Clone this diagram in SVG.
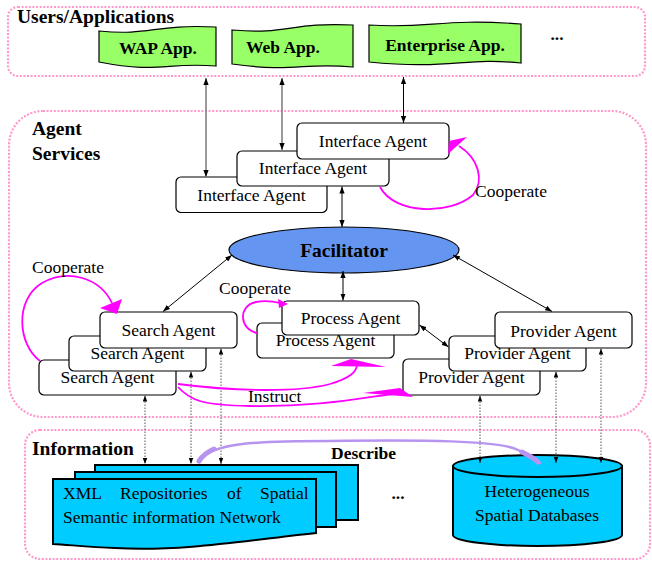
<svg xmlns="http://www.w3.org/2000/svg" width="652" height="563" viewBox="0 0 652 563">
<defs>
<marker id="ah" viewBox="0 0 8 6" markerWidth="7" markerHeight="5.5" refX="8" refY="3" orient="auto-start-reverse" markerUnits="userSpaceOnUse">
<path d="M0,0 L8,3 L0,6 Z" fill="#000"/>
</marker>
<marker id="ahs" viewBox="0 0 8 6" markerWidth="6" markerHeight="5" refX="8" refY="3" orient="auto-start-reverse" markerUnits="userSpaceOnUse">
<path d="M0,0 L8,3 L0,6 Z" fill="#000"/>
</marker>
</defs>
<style>
.zone{fill:none;stroke:#ff99cc;stroke-width:2.2;stroke-dasharray:2 1.6}
.box{fill:#fff;stroke:#000;stroke-width:1.2}
.app{fill:#99ff66;stroke:#000;stroke-width:1.2}
.blue{fill:#00ccff;stroke:#000;stroke-width:2}
.t{font-family:"Liberation Serif","Times New Roman",serif;font-size:17.5px;text-anchor:middle;fill:#000}
.s{text-anchor:start}
.b{font-weight:bold}
.h{font-size:19.5px}
.ln{stroke:#000;stroke-width:1;fill:none}
.gl{stroke:#808080;stroke-width:1.6;fill:none}
.dt{stroke:#555;stroke-width:1;stroke-dasharray:1.5 1.5;fill:none}
.mg{stroke:#ff00ff;stroke-width:1.8;fill:none}
.mgf{fill:#ff00ff}
.lav{stroke:#b794f0;fill:none;stroke-linecap:round}
</style>

<g id="zone-users">
<rect class="zone" x="8" y="7" width="637" height="69" rx="10"/>
<text class="t s b h" x="17" y="23">Users/Applications</text>
</g>
<g id="zone-agents">
<rect class="zone" x="9" y="111" width="637" height="306" rx="34"/>
<text class="t s b h" x="32" y="135">Agent</text>
<text class="t s b h" x="32" y="160">Services</text>
</g>
<g id="zone-info">
<rect class="zone" x="25" y="430" width="625" height="129" rx="15"/>
<text class="t s b h" x="32" y="455">Information</text>
</g>

<g id="wap-app">
<path class="app" d="M99,31 C152,36 152,24 216,27 L216,66 C165,62 160,74 99,62 Z"/>
<text class="t b" x="158" y="54">WAP App.</text>
</g>
<g id="web-app">
<path class="app" d="M232,30 C288,35 290,22 353,25 L353,67 C302,62 296,73 232,64 Z"/>
<text class="t b" x="283" y="53">Web App.</text>
</g>
<g id="enterprise-app">
<path class="app" d="M369,25 C430,29 440,18 521,24 L521,63 C465,57 450,70 369,62 Z"/>
<text class="t b" x="445" y="50.5">Enterprise App.</text>
</g>
<g id="more-apps">
<text class="t b" x="557" y="40">...</text>
</g>

<g id="interface-agent-3">
<rect class="box" x="176" y="177" width="151" height="35.5" rx="5"/>
<text class="t" x="251.5" y="201">Interface Agent</text>
</g>
<g id="interface-agent-2">
<rect class="box" x="237" y="151" width="152" height="35" rx="5"/>
<text class="t" x="313" y="174">Interface Agent</text>
</g>
<g id="interface-agent-1">
<rect class="box" x="297" y="123" width="152" height="36" rx="5"/>
<text class="t" x="373" y="147">Interface Agent</text>
</g>

<g id="facilitator">
<ellipse cx="344" cy="250" rx="115" ry="23" fill="#6495f0" stroke="#000" stroke-width="1.2"/>
<text class="t b h" x="344" y="256.5">Facilitator</text>
</g>

<g id="search-agent-3">
<rect class="box" x="39" y="360" width="137" height="35" rx="5"/>
<text class="t" x="107.5" y="383">Search Agent</text>
</g>
<g id="search-agent-2">
<rect class="box" x="69" y="336" width="137" height="35" rx="5"/>
<text class="t" x="137.5" y="359">Search Agent</text>
</g>
<g id="search-agent-1">
<rect class="box" x="100" y="312" width="137" height="36" rx="5"/>
<text class="t" x="168.5" y="336">Search Agent</text>
</g>

<g id="process-agent-2">
<rect class="box" x="257" y="323" width="137" height="35" rx="5"/>
<text class="t" x="325.5" y="346">Process Agent</text>
</g>
<g id="process-agent-1">
<rect class="box" x="282" y="301" width="137" height="34" rx="5"/>
<text class="t" x="350.5" y="324">Process Agent</text>
</g>

<g id="provider-agent-3">
<rect class="box" x="403" y="359" width="137" height="36" rx="5"/>
<text class="t" x="471.5" y="383">Provider Agent</text>
</g>
<g id="provider-agent-2">
<rect class="box" x="449" y="336" width="137" height="35" rx="5"/>
<text class="t" x="517.5" y="359">Provider Agent</text>
</g>
<g id="provider-agent-1">
<rect class="box" x="495" y="312" width="137" height="36" rx="5"/>
<text class="t" x="563.5" y="336.5">Provider Agent</text>
</g>

<g id="xml-repositories">
<rect class="blue" x="95" y="465" width="263" height="55"/>
<rect class="blue" x="75" y="472" width="261" height="55"/>
<path class="blue" d="M53,479 H316 V533 C250,540 180,552 115,548 C90,547 70,545 53,544 Z"/>
<text class="t s"><tspan x="63" y="499">XML</tspan><tspan x="120" y="499">Repositories</tspan><tspan x="227" y="499">of</tspan><tspan x="260" y="499">Spatial</tspan></text>
<text class="t s" x="63" y="523">Semantic information Network</text>
</g>
<g id="more-info">
<text class="t b" x="398" y="499">...</text>
</g>
<g id="spatial-databases">
<path class="blue" d="M453,466 V535 A84.5,11 0 0 0 622,535 V466 Z"/>
<ellipse class="blue" cx="537.5" cy="466" rx="84.5" ry="11" fill="#22d0ff"/>
<text class="t" x="537" y="497">Heterogeneous</text>
<text class="t" x="537" y="521">Spatial Databases</text>
</g>

<g id="connectors">
<line class="gl" x1="206" y1="78" x2="206" y2="177" marker-start="url(#ah)" marker-end="url(#ah)"/>
<line class="gl" x1="282" y1="78" x2="282" y2="150" marker-start="url(#ah)" marker-end="url(#ah)"/>
<line class="ln" x1="403.5" y1="77" x2="403.5" y2="123" marker-start="url(#ah)" marker-end="url(#ah)"/>
<line class="ln" x1="342" y1="186.5" x2="342" y2="227" marker-start="url(#ah)" marker-end="url(#ah)"/>
<line class="ln" x1="232" y1="255" x2="163" y2="311.5" marker-start="url(#ah)" marker-end="url(#ah)"/>
<line class="ln" x1="343" y1="271" x2="343" y2="300.5" marker-start="url(#ah)" marker-end="url(#ah)"/>
<line class="ln" x1="453" y1="255" x2="552" y2="311.5" marker-start="url(#ah)" marker-end="url(#ah)"/>
<line class="ln" x1="419.5" y1="325" x2="448.5" y2="347" marker-start="url(#ah)" marker-end="url(#ah)"/>

<line class="dt" x1="145" y1="395.5" x2="145" y2="464" marker-start="url(#ahs)" marker-end="url(#ahs)"/>
<line class="dt" x1="191" y1="371.5" x2="191" y2="464" marker-start="url(#ahs)" marker-end="url(#ahs)"/>
<line class="dt" x1="221" y1="348.5" x2="221" y2="464" marker-start="url(#ahs)" marker-end="url(#ahs)"/>
<line class="dt" x1="480" y1="395.5" x2="480" y2="463" marker-start="url(#ahs)" marker-end="url(#ahs)"/>
<line class="dt" x1="556" y1="371.5" x2="556" y2="463" marker-start="url(#ahs)" marker-end="url(#ahs)"/>
<line class="dt" x1="601" y1="348.5" x2="601" y2="463" marker-start="url(#ahs)" marker-end="url(#ahs)"/>

<path class="mg" d="M380,187 C395,215 450,215 473,195 C485,180 478,158 459,146"/>
<polygon class="mgf" points="449,141 467,137 448,154"/>
<text class="t s" x="475" y="197">Cooperate</text>

<path class="mg" d="M40,361 C18,345 14,300 42,283 C68,268 100,278 112,303"/>
<polygon class="mgf" points="100,308 122,299 117,314"/>
<text class="t s" x="32" y="273">Cooperate</text>

<path class="mg" d="M257,333 C240,330 237,306 256,302 C265,300 272,301 280,303"/>
<polygon class="mgf" points="278,299 288,304 279,308"/>
<text class="t s" x="219" y="294">Cooperate</text>

<path class="mg" d="M178,384 C240,392 300,392 330,384 C350,378 357,372 357,364"/>
<polygon class="mgf" points="331,366 351,359 386,367"/>
<path class="mg" d="M178,387 C190,400 200,405 250,406 C320,407 360,398 400,393"/>
<polygon class="mgf" points="363,393 400,388 413,397"/>
<text class="t s" x="248" y="402">Instruct</text>

<path class="lav" stroke-width="2.5" d="M198,462 C210,442 260,441 330,441 C420,440 500,440 518,450 C530,456 537,460 540,463"/>
<path class="lav" stroke-width="5" d="M199,461 C203,455 207,452 214,449"/>
<path class="lav" stroke-width="5" d="M522,452 C530,456 535,459 538,462"/>
<text class="t s b" x="331" y="459">Describe</text>
</g>
</svg>
